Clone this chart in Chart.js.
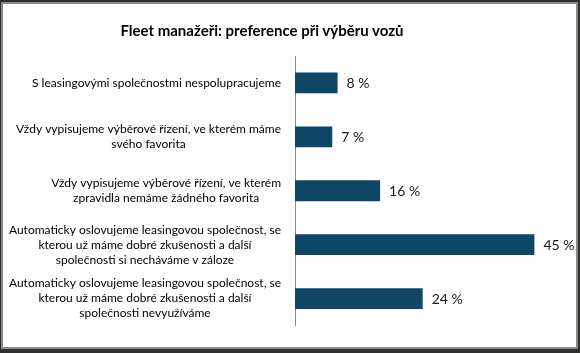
<!DOCTYPE html>
<html>
<head>
<meta charset="utf-8">
<script src="https://cdn.jsdelivr.net/npm/chart.js@4"></script>
<style>
  html, body { margin: 0; padding: 0; }
  body { width: 580px; height: 353px; background: #2f302c; position: relative; overflow: hidden; }
  #frame { position: absolute; left: 1px; top: 2px; width: 573px; height: 343px; border: 2px solid #8a8a8a; background: #fff; }
  #title { position: absolute; left: 0; top: 16px; width: 518px; text-align: center; font: bold 15px Lato, sans-serif; color: #000; line-height: 20px; }
  canvas { position: absolute; left: 0; top: 0; }
</style>
</head>
<body>
<div id="frame">
  <canvas id="c" width="573" height="343"></canvas>
  <div id="title">Fleet manažeři: preference při výběru vozů</div>
</div>
<script>
const categories = [
  ["S leasingovými společnostmi nespolupracujeme"],
  ["Vždy vypisujeme výběrové řízení, ve kterém máme", "svého favorita"],
  ["Vždy vypisujeme výběrové řízení, ve kterém", "zpravidla nemáme žádného favorita"],
  ["Automaticky oslovujeme leasingovou společnost, se", "kterou už máme dobré zkušenosti a další", "společnosti si necháváme v záloze"],
  ["Automaticky oslovujeme leasingovou společnost, se", "kterou už máme dobré zkušenosti a další", "společnosti nevyužíváme"]
];
const values = [8, 7, 16, 45, 24];
const valueLabels = values.map(v => v + " %");

const barColor = "#0e4766";
const tickFont = { family: "Lato, sans-serif", size: 12, lineHeight: 1.25 };
const tickPadding = 14;

// Excel-style wrapped labels: each label block is right-aligned to the axis,
// and its own lines are centered within that block.
const blockAlignPlugin = {
  id: "blockAlign",
  beforeDraw(chart) {
    const s = chart.scales.y;
    const items = s.getLabelItems();
    const ctx = chart.ctx;
    ctx.save();
    ctx.font = tickFont.size + "px " + tickFont.family;
    items.forEach(item => {
      const lines = Array.isArray(item.label) ? item.label : [item.label];
      const w = Math.max(...lines.map(l => ctx.measureText(l).width));
      item.options.textAlign = "center";
      item.options.translation[0] = s.right - tickPadding - w / 2;
    });
    ctx.restore();
  }
};

const valueLabelPlugin = {
  id: "valueLabels",
  afterDatasetsDraw(chart) {
    const ctx = chart.ctx;
    const meta = chart.getDatasetMeta(0);
    ctx.save();
    ctx.font = "14px Lato, sans-serif";
    ctx.fillStyle = "#1a1a1a";
    ctx.textAlign = "left";
    ctx.textBaseline = "middle";
    meta.data.forEach((bar, i) => {
      ctx.fillText(valueLabels[i], bar.x + 9, bar.y + 1);
    });
    ctx.restore();
  }
};

new Chart(document.getElementById("c"), {
  type: "bar",
  data: {
    labels: categories,
    datasets: [{
      data: values,
      backgroundColor: barColor,
      borderWidth: 0,
      barPercentage: 0.385,
      categoryPercentage: 1
    }]
  },
  options: {
    indexAxis: "y",
    responsive: false,
    devicePixelRatio: 1,
    animation: false,
    layout: { padding: { top: 52, right: 15, bottom: 15, left: 0 } },
    plugins: {
      legend: { display: false },
      title: { display: false },
      tooltip: { enabled: false }
    },
    scales: {
      x: { min: 0, max: 50, display: false },
      y: {
        grid: { display: false, drawTicks: false },
        border: { display: true, color: "#8c8c8c", width: 1 },
        ticks: {
          crossAlign: "center",
          padding: tickPadding,
          color: "#000",
          font: tickFont
        },
        afterFit(scale) { scale.width = 292; }
      }
    }
  },
  plugins: [blockAlignPlugin, valueLabelPlugin]
});
</script>
</body>
</html>
